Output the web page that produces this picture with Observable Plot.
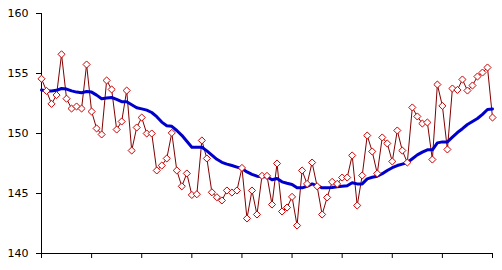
<!DOCTYPE html>
<html>
<head>
<meta charset="utf-8">
<script src="https://cdn.jsdelivr.net/npm/d3@7"></script>
<script src="https://cdn.jsdelivr.net/npm/@observablehq/plot@0.6"></script>
<style>
  html, body { margin: 0; padding: 0; background: #fff; }
  #chart svg { display: block; }
</style>
</head>
<body>
<div id="chart"></div>
<script>
// Observed series (red diamonds)
const observed = [
  154.56, 153.55, 152.47, 153.2, 156.6, 152.9, 152.08, 152.25, 152.08, 155.75,
  151.83, 150.42, 149.92, 154.42, 153.67, 150.33, 151.0, 153.58, 148.58, 150.5,
  151.33, 150.0, 150.0, 146.92, 147.33, 147.92, 150.05, 146.92, 145.6, 146.67,
  144.88, 144.94, 149.42, 147.92, 145.1, 144.69, 144.42, 145.25, 145.08, 145.25,
  147.13, 142.92, 145.25, 143.25, 146.47, 146.47, 144.08, 147.5, 143.5, 143.83,
  144.72, 142.33, 146.92, 145.8, 147.58, 145.6, 143.25, 144.67, 145.97, 145.8,
  146.33, 146.33, 148.17, 144.0, 146.5, 149.83, 148.5, 146.67, 149.67, 149.17,
  147.67, 150.25, 148.58, 147.58, 152.17, 151.42, 150.83, 150.92, 147.83, 154.08,
  152.3, 148.67, 153.75, 153.63, 154.5, 153.58, 154.0, 154.75, 155.08, 155.5,
  151.33
];
// Smoothed trend (blue line)
const trend = [
  153.63, 153.55, 153.55, 153.6, 153.75, 153.7, 153.55, 153.45, 153.4, 153.5,
  153.45, 153.2, 152.9, 152.95, 153.0, 152.85, 152.65, 152.65, 152.4, 152.15,
  152.05, 151.95, 151.75, 151.4, 150.95, 150.65, 150.6, 150.25, 149.85, 149.35,
  148.85, 148.85, 148.85, 148.55, 148.2, 147.85, 147.6, 147.45, 147.33, 147.2,
  147.08, 146.8, 146.6, 146.44, 146.4, 146.4, 146.14, 146.25, 145.97, 145.85,
  145.75, 145.47, 145.47, 145.6, 145.8, 145.65, 145.47, 145.47, 145.5, 145.56,
  145.6, 145.64, 145.89, 145.8, 145.8, 146.22, 146.35, 146.44, 146.65, 146.92,
  147.15, 147.33, 147.45, 147.58, 147.9, 148.22, 148.45, 148.64, 148.64, 149.22,
  149.3, 149.3, 149.7, 150.08, 150.4, 150.75, 151.0, 151.25, 151.6, 152.0,
  152.05
];
const yTicks = [140, 145, 150, 155, 160];
const xTicks = [0, 10, 20, 30, 40, 50, 60, 70, 80, 90];

const obsData = observed.map((v, i) => ({i, v}));
const trendData = trend.map((v, i) => ({i, v}));

const chart = Plot.plot({
  width: 502,
  height: 270,
  marginLeft: 41,
  marginRight: 10,
  marginTop: 13,
  marginBottom: 17,
  style: {fontFamily: "DejaVu Sans", fontSize: "11px", color: "#000", background: "#fff"},
  x: {domain: [0, 90], axis: null},
  y: {domain: [140, 160], axis: null},
  marks: [
    Plot.axisY({ticks: yTicks, tickSize: 5, tickPadding: 8, label: null, stroke: "#000", fill: "#000"}),
    Plot.axisX({ticks: xTicks, tickSize: 5, tickFormat: () => "", label: null, stroke: "#000"}),
    Plot.ruleX([0], {y1: 140, y2: 160, stroke: "#000"}),
    Plot.ruleY([140], {x1: 0, x2: 90, stroke: "#000"}),
    Plot.line(obsData, {x: "i", y: "v", stroke: "#800000", strokeWidth: 1}),
    Plot.line(trendData, {x: "i", y: "v", stroke: "#0000cc", strokeWidth: 3, curve: "linear"}),
    Plot.dot(obsData, {x: "i", y: "v", symbol: "diamond2", r: 3.2, stroke: "#cc0000", fill: "#fff", strokeWidth: 1})
  ]
});
document.getElementById("chart").appendChild(chart);
</script>
</body>
</html>
